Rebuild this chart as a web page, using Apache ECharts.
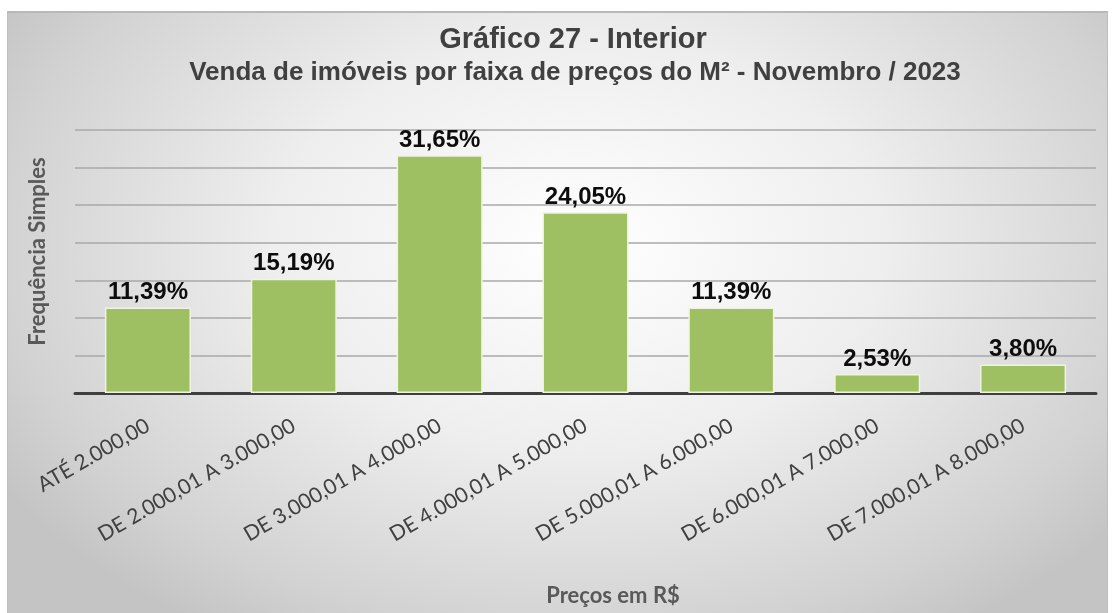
<!DOCTYPE html>
<html>
<head>
<meta charset="utf-8">
<script src="https://cdn.jsdelivr.net/npm/echarts@6/dist/echarts.min.js"></script>
<style>
  html, body { margin: 0; padding: 0; background: #fff; }
  .frame {
    position: absolute;
    left: 7px; top: 11px;
    width: 1099px; height: 610px;
    border: 1px solid #bdbdbd;
    border-top: 2px solid #b8b8b8;
    background: radial-gradient(ellipse 62% 75% at 52% 38%, #ffffff 0%, #eeeeee 45%, #d2d2d2 85%, #c4c4c4 100%);
  }
  #chart { position: absolute; left: 0; top: 0; width: 1112px; height: 613px; }
</style>
</head>
<body>
<div class="frame"></div>
<div id="chart"></div>
<script>
const categories = [
  'ATÉ 2.000,00',
  'DE 2.000,01 A 3.000,00',
  'DE 3.000,01 A 4.000,00',
  'DE 4.000,01 A 5.000,00',
  'DE 5.000,01 A 6.000,00',
  'DE 6.000,01 A 7.000,00',
  'DE 7.000,01 A 8.000,00'
];
const percentages = [11.39, 15.19, 31.65, 24.05, 11.39, 2.53, 3.80];

const chart = echarts.init(document.getElementById('chart'));

const fmt = v => v.toFixed(2).replace('.', ',') + '%';

chart.setOption({
  backgroundColor: 'transparent',
  animation: false,
  title: [
    {
      text: 'Gráfico 27 - Interior',
      left: 568, top: 20, textAlign: 'center',
      textStyle: { fontFamily: 'Liberation Sans', fontWeight: 'bold', fontSize: 29, color: '#404040' }
    },
    {
      text: 'Venda de imóveis por faixa de preços do M² - Novembro / 2023',
      left: 570, top: 55, textAlign: 'center',
      textStyle: { fontFamily: 'Liberation Sans', fontWeight: 'bold', fontSize: 26, color: '#404040' }
    }
  ],
  grid: { left: 75, right: 16, top: 130, bottom: 220, containLabel: false },
  xAxis: {
    type: 'category',
    data: categories,
    name: 'Preços em R$',
    nameLocation: 'middle',
    nameGap: 192,
    nameTextStyle: {
      fontFamily: 'Lato', fontWeight: 'bold', fontSize: 22, color: '#595959',
      padding: [0, 0, 0, 55]
    },
    axisLine: { lineStyle: { color: '#3f3f3f', width: 3 } },
    axisTick: { show: false },
    axisLabel: {
      rotate: 30, margin: 31, interval: 0,
      fontFamily: 'Lato', fontSize: 21, color: '#404040'
    }
  },
  yAxis: {
    type: 'value',
    min: 0, max: 35, interval: 5,
    name: 'Frequência Simples',
    nameLocation: 'middle',
    nameGap: 26,
    nameTextStyle: {
      fontFamily: 'Lato', fontWeight: 'bold', fontSize: 22, color: '#595959',
      padding: [0, 0, 0, 20]
    },
    axisLine: { show: false },
    axisTick: { show: false },
    axisLabel: { show: false },
    splitLine: { lineStyle: { color: '#a8a8a8', width: 1.5 } }
  },
  series: [{
    type: 'bar',
    data: percentages,
    barWidth: '59%',
    itemStyle: { color: '#9fbf63', borderColor: '#eef3e2', borderWidth: 1.5 },
    label: {
      show: true, position: 'top', distance: 3,
      formatter: p => fmt(p.value),
      fontFamily: 'Liberation Sans', fontWeight: 'bold', fontSize: 24, color: '#0d0d0d'
    }
  }]
});
</script>
</body>
</html>
